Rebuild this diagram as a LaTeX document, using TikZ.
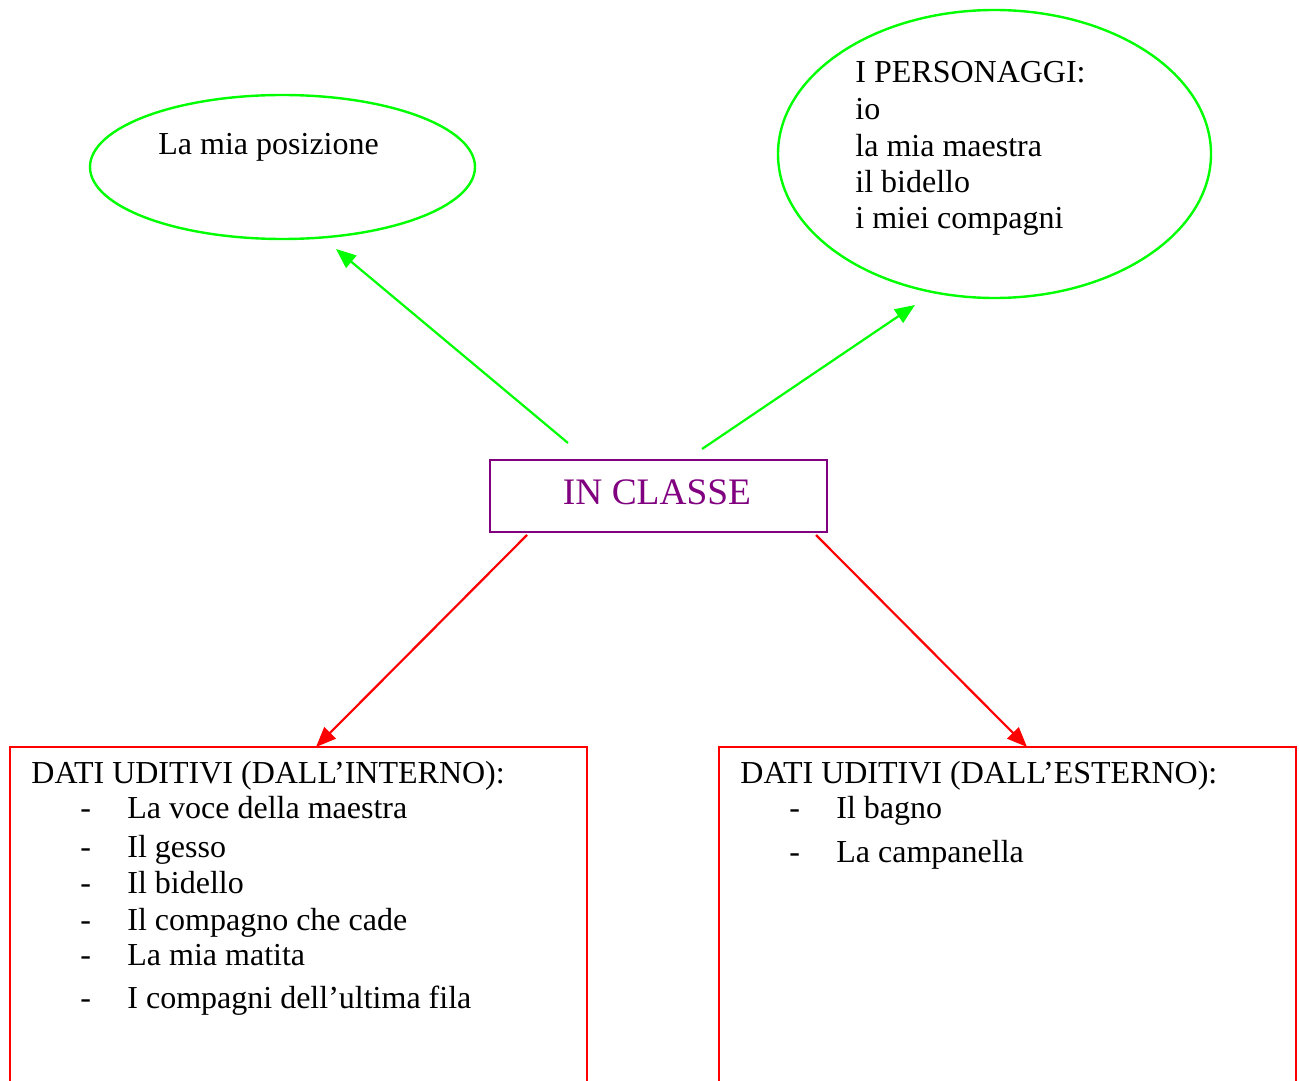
\documentclass[tikz,border=0pt]{standalone}
\usepackage{fontspec}
\setmainfont{Liberation Serif}
\usetikzlibrary{arrows.meta,shapes.geometric}
\definecolor{grn}{RGB}{0,255,0}
\definecolor{rd}{RGB}{255,0,0}
\definecolor{prp}{RGB}{128,0,128}
\begin{document}
\begin{tikzpicture}[x=0.5pt,y=-0.5pt,
  txt/.style={anchor=base west,inner sep=0pt,font=\fontsize{16}{18.3}\selectfont},
  oval/.style={draw=grn,line width=1.2pt,ellipse,inner sep=0pt},
  redbox/.style={draw=rd,line width=1.1pt},
  gline/.style={draw=grn,line width=1.1pt,-{Triangle[length=10pt,width=8pt]}},
  rline/.style={draw=rd,line width=1.1pt,-{Triangle[length=10pt,width=8pt]}}]
\useasboundingbox (0,0) rectangle (1299,1080);
\fill[white] (0,0) rectangle (1299,1080);
% ellipses
\node[oval,minimum width=192.5pt,minimum height=72pt] (pos) at (282.5,167) {};
\node[oval,minimum width=216.5pt,minimum height=144pt] (pers) at (994.5,154) {};
\node[txt] (posT) at (158,155) {La mia posizione};
\node[txt] (p1) at (855,83) {I PERSONAGGI:};
\node[txt] (p2) at (855,120) {io};
\node[txt] (p3) at (855,157) {la mia maestra};
\node[txt] (p4) at (855,193) {il bidello};
\node[txt] (p5) at (855,229) {i miei compagni};
% central box
\node[draw=prp,line width=1.2pt,minimum width=168.5pt,minimum height=36pt,inner sep=0pt] (cls) at (658.5,496) {};
\node[anchor=base,inner sep=0pt,text=prp,font=\fontsize{18.7}{21}\selectfont] (clsT) at (657,504) {IN CLASSE};
% bottom boxes
\draw[redbox] (10,1100) |- (587,747) -- (587,1100);
\draw[redbox] (719,1100) |- (1296,747) -- (1296,1100);
\coordinate (lbox) at (316,747);
\coordinate (rbox) at (1027,747);
\node[txt] (l0) at (31,783) {DATI UDITIVI (DALL’INTERNO):};
\node[txt] (l1d) at (80,818) {-};
\node[txt] (l1) at (127,818) {La voce della maestra};
\node[txt] (l2d) at (80,857) {-};
\node[txt] (l2) at (127,857) {Il gesso};
\node[txt] (l3d) at (80,893) {-};
\node[txt] (l3) at (127,893) {Il bidello};
\node[txt] (l4d) at (80,930) {-};
\node[txt] (l4) at (127,930) {Il compagno che cade};
\node[txt] (l5d) at (80,965) {-};
\node[txt] (l5) at (127,965) {La mia matita};
\node[txt] (l6d) at (80,1008) {-};
\node[txt] (l6) at (127,1008) {I compagni dell’ultima fila};
\node[txt] (r0) at (740,783) {DATI UDITIVI (DALL’ESTERNO):};
\node[txt] (r1d) at (789,818) {-};
\node[txt] (r1) at (836,818) {Il bagno};
\node[txt] (r2d) at (789,862) {-};
\node[txt] (r2) at (836,862) {La campanella};
% connector endpoints
\coordinate (g1s) at (568,443);
\coordinate (g1e) at (336,249);
\coordinate (g2s) at (702,449);
\coordinate (g2e) at (915,305);
\coordinate (r1s) at (527,535);
\coordinate (r2s) at (816,535);
\draw[gline] (g1s) -- (g1e);
\draw[gline] (g2s) -- (g2e);
\draw[rline] (r1s) -- (lbox);
\draw[rline] (r2s) -- (rbox);
\end{tikzpicture}
\end{document}
